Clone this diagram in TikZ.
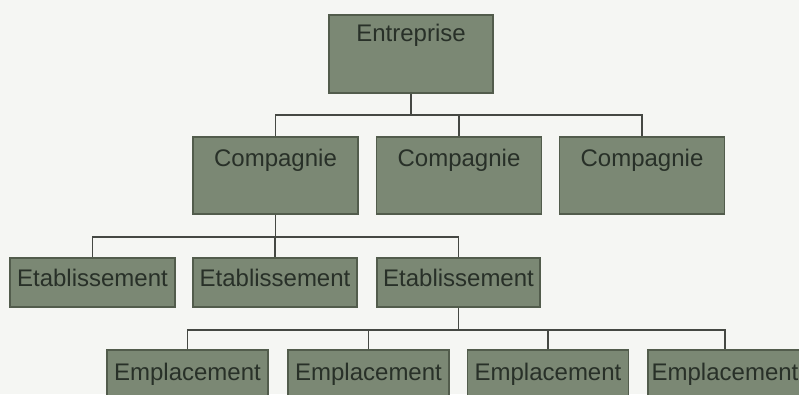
\documentclass[tikz,border=0pt]{standalone}
\usepackage{fontspec}
\setmainfont{Liberation Sans}
\definecolor{paper}{HTML}{F5F6F3}
\definecolor{boxfill}{HTML}{7B8874}
\definecolor{boxedge}{HTML}{525C4C}
\definecolor{wire}{HTML}{454843}
\definecolor{ink}{HTML}{283028}
\begin{document}
\begin{tikzpicture}[x=1pt,y=-1pt,
  orgbox/.style={draw=boxedge,line width=1.6pt,fill=boxfill,inner sep=0pt,
    text=ink,font=\fontsize{24}{24}\selectfont},
  toptext/.style={text height=10pt,text depth=34.8pt},
  comptext/.style={text height=10pt,text depth=28.8pt},
  etabtext/.style={text height=17pt,text depth=8.8pt},
  empltext/.style={text height=17pt,text depth=5.8pt},
  wires/.style={draw=wire,line width=1.9pt}]
\fill[paper] (0,0) rectangle (799,394);
\useasboundingbox (0,0) rectangle (799,394);
\clip (0,0) rectangle (799,394);

% top level
\node[orgbox,toptext,minimum width=164pt,minimum height=78pt] (ent) at (411,54) {Entreprise};

% companies
\foreach \n/\x in {c1/275.5,c2/459,c3/642}
  \node[orgbox,comptext,minimum width=165pt,minimum height=77pt] (\n) at (\x,175.5) {Compagnie};

% establishments
\node[orgbox,etabtext,minimum width=165pt,minimum height=49pt] (e1) at (92.5,282.5) {Etablissement};
\node[orgbox,etabtext,minimum width=164pt,minimum height=49pt] (e2) at (275,282.5) {Etablissement};
\node[orgbox,etabtext,minimum width=163pt,minimum height=49pt] (e3) at (458.5,282.5) {Etablissement};

% locations (the last one runs past the right edge)
\foreach \n/\x in {p1/187.5,p2/368.5,p3/548}
  \node[orgbox,empltext,minimum width=161pt,minimum height=50pt] (\n) at (\x,375) {Emplacement};
\node[orgbox,empltext,minimum width=154pt,minimum height=50pt] (p4) at (725,375) {Emplacement};

% buses
\coordinate (busA) at (411,115);
\coordinate (busB) at (275,237);
\coordinate (busC) at (458.5,330);

\draw[wires] (ent.south) -- (ent.south |- busA);
\draw[wires] (c1.north) -- (c1.north |- busA) -- (c3.north |- busA) -- (c3.north);
\draw[wires] (c2.north) -- (c2.north |- busA);

\draw[wires] (c1.south) -- (c1.south |- busB);
\draw[wires] (e1.north) -- (e1.north |- busB) -- (e3.north |- busB) -- (e3.north);
\draw[wires] (e2.north) -- (e2.north |- busB);

\draw[wires] (e3.south) -- (e3.south |- busC);
\draw[wires] (p1.north) -- (p1.north |- busC) -- (p4.north |- busC) -- (p4.north);
\draw[wires] (p2.north) -- (p2.north |- busC);
\draw[wires] (p3.north) -- (p3.north |- busC);
\end{tikzpicture}
\end{document}
